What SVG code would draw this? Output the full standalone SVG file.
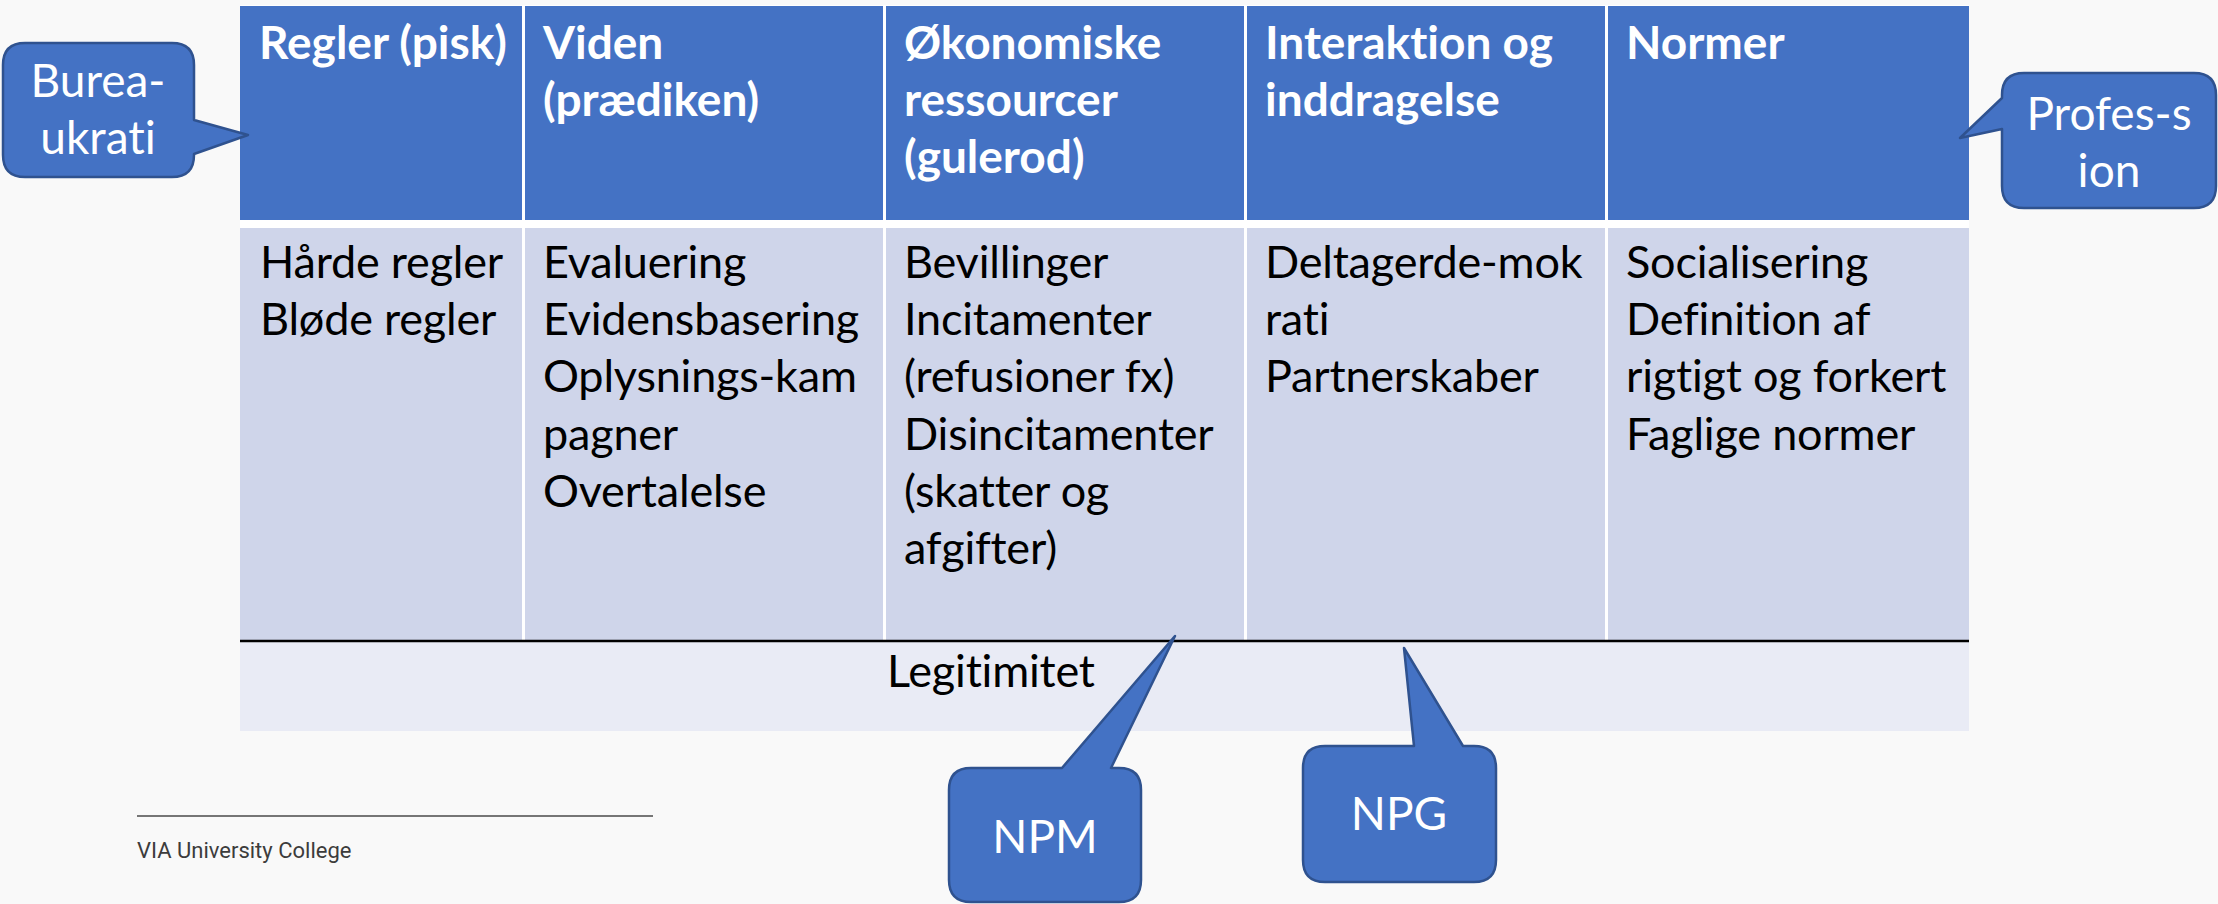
<svg xmlns="http://www.w3.org/2000/svg" width="2218" height="904" viewBox="0 0 2218 904">
<style>
.hdr{fill:#4472c4}
.body{fill:#cfd5ea}
.legit{fill:#e9ebf5}
text{font-variant-ligatures:none}
.ht{font-family:Lato,"Open Sans","Liberation Sans",sans-serif;font-size:46px;font-weight:bold;fill:#ffffff}
.bt{font-family:Lato,"Open Sans","Liberation Sans",sans-serif;font-size:45px;letter-spacing:-0.2px;fill:#000000}
.callout{fill:#4472c4;stroke:#2f528f;stroke-width:2.5;stroke-linejoin:round}
.ct{font-family:Lato,"Open Sans","Liberation Sans",sans-serif;font-size:46px;fill:#ffffff;text-anchor:middle}
.foot{font-family:Roboto,"Liberation Sans",sans-serif;font-size:22px;fill:#3c3c3c}
</style>
<rect x="0" y="0" width="2218" height="904" fill="#f9f9f9"/>
<g id="table">
<rect x="240" y="5" width="1729" height="637" fill="#ffffff"/>
<g id="header-row">
<rect class="hdr" x="240" y="6" width="282" height="214"/>
<rect class="hdr" x="525" y="6" width="358" height="214"/>
<rect class="hdr" x="886" y="6" width="358" height="214"/>
<rect class="hdr" x="1247" y="6" width="358" height="214"/>
<rect class="hdr" x="1608" y="6" width="361" height="214"/>
</g>
<g id="body-row">
<rect class="body" x="240" y="228" width="282" height="412"/>
<rect class="body" x="525" y="228" width="358" height="412"/>
<rect class="body" x="886" y="228" width="358" height="412"/>
<rect class="body" x="1247" y="228" width="358" height="412"/>
<rect class="body" x="1608" y="228" width="361" height="412"/>
</g>
<g id="legitimitet-row">
<rect class="legit" x="240" y="642" width="1729" height="89"/>
<line x1="240" y1="641" x2="1969" y2="641" stroke="#000000" stroke-width="2.5"/>
<text class="bt" x="887" y="687">Legitimitet</text>
</g>
</g>
<g id="col-regler">
<text class="ht" x="259" y="59">Regler (pisk)</text>
<text class="bt" x="260" y="278">Hårde regler</text>
<text class="bt" x="260" y="335">Bløde regler</text>
</g>
<g id="col-viden">
<text class="ht" x="543" y="59">Viden</text>
<text class="ht" x="543" y="116">(prædiken)</text>
<text class="bt" x="543" y="278">Evaluering</text>
<text class="bt" x="543" y="335">Evidensbasering</text>
<text class="bt" x="543" y="392">Oplysnings-kam</text>
<text class="bt" x="543" y="450">pagner</text>
<text class="bt" x="543" y="507">Overtalelse</text>
</g>
<g id="col-okonomiske">
<text class="ht" x="904" y="59">Økonomiske</text>
<text class="ht" x="904" y="116">ressourcer</text>
<text class="ht" x="904" y="173">(gulerod)</text>
<text class="bt" x="904" y="278">Bevillinger</text>
<text class="bt" x="904" y="335">Incitamenter</text>
<text class="bt" x="904" y="392">(refusioner fx)</text>
<text class="bt" x="904" y="450">Disincitamenter</text>
<text class="bt" x="904" y="507">(skatter og</text>
<text class="bt" x="904" y="564">afgifter)</text>
</g>
<g id="col-interaktion">
<text class="ht" x="1265" y="59">Interaktion og</text>
<text class="ht" x="1265" y="116">inddragelse</text>
<text class="bt" x="1265" y="278">Deltagerde-mok</text>
<text class="bt" x="1265" y="335">rati</text>
<text class="bt" x="1265" y="392">Partnerskaber</text>
</g>
<g id="col-normer">
<text class="ht" x="1626" y="59">Normer</text>
<text class="bt" x="1626" y="278">Socialisering</text>
<text class="bt" x="1626" y="335">Definition af</text>
<text class="bt" x="1626" y="392">rigtigt og forkert</text>
<text class="bt" x="1626" y="450">Faglige normer</text>
</g>
<g id="connectors"></g>
<g id="callout-bureaukrati">
<path class="callout" d="M25,43 H172 Q194,43 194,65 V120 L248,135 L194,154 V155 Q194,177 172,177 H25 Q3,177 3,155 V65 Q3,43 25,43 Z"/>
<text class="ct" x="98" y="97">Burea-</text>
<text class="ct" x="98" y="154">ukrati</text>
</g>
<g id="callout-profession">
<path class="callout" d="M2024,73 H2194 Q2216,73 2216,95 V186 Q2216,208 2194,208 H2024 Q2002,208 2002,186 V129 L1960,138 L2002,98 V95 Q2002,73 2024,73 Z"/>
<text class="ct" x="2109" y="130">Profes-s</text>
<text class="ct" x="2109" y="187">ion</text>
</g>
<g id="callout-npm">
<path class="callout" d="M971,768 H1062 L1175,636 L1111,768 H1119 Q1141,768 1141,790 V880 Q1141,902 1119,902 H971 Q949,902 949,880 V790 Q949,768 971,768 Z"/>
<text class="ct" x="1045" y="853">NPM</text>
</g>
<g id="callout-npg">
<path class="callout" d="M1325,746 H1414 L1404,648 L1463,746 H1474 Q1496,746 1496,768 V860 Q1496,882 1474,882 H1325 Q1303,882 1303,860 V768 Q1303,746 1325,746 Z"/>
<text class="ct" x="1399" y="830">NPG</text>
</g>
<g id="footer">
<line x1="137" y1="816" x2="653" y2="816" stroke="#4a4a4a" stroke-width="1.5"/>
<text class="foot" x="137" y="858">VIA University College</text>
</g>
</svg>
